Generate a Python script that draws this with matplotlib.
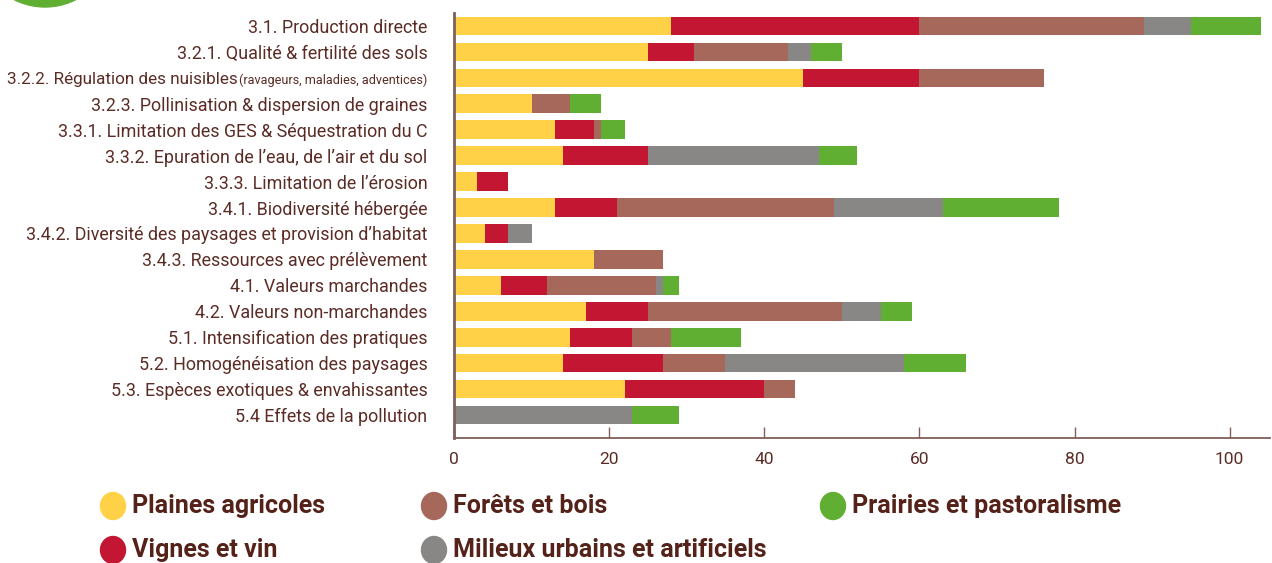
import matplotlib
matplotlib.use("Agg")
import matplotlib.pyplot as plt
from matplotlib.patches import Ellipse
import numpy as np

# categories (top to bottom)
categories = [
    "3.1. Production directe",
    "3.2.1. Qualité & fertilité des sols",
    "3.2.2. Régulation des nuisibles",
    "3.2.3. Pollinisation & dispersion de graines",
    "3.3.1. Limitation des GES & Séquestration du C",
    "3.3.2. Epuration de l\u2019eau, de l\u2019air et du sol",
    "3.3.3. Limitation de l\u2019érosion",
    "3.4.1. Biodiversité hébergée",
    "3.4.2. Diversité des paysages et provision d\u2019habitat",
    "3.4.3. Ressources avec prélèvement",
    "4.1. Valeurs marchandes",
    "4.2. Valeurs non-marchandes",
    "5.1. Intensification des pratiques",
    "5.2. Homogénéisation des paysages",
    "5.3. Espèces exotiques & envahissantes",
    "5.4 Effets de la pollution",
]
note_idx = 2
note = "(ravageurs, maladies, adventices)"

# series values
plaines = [28, 25, 45, 10, 13, 14, 3, 13, 4, 18, 6, 17, 15, 14, 22, 0]
vignes = [32, 6, 15, 0, 5, 11, 4, 8, 3, 0, 6, 8, 8, 13, 18, 0]
forets = [29, 12, 16, 5, 1, 0, 0, 28, 0, 9, 14, 25, 5, 8, 4, 0]
milieux = [6, 3, 0, 0, 0, 22, 0, 14, 3, 0, 1, 5, 0, 23, 0, 23]
prairies = [9, 4, 0, 4, 3, 5, 0, 15, 0, 0, 2, 4, 9, 8, 0, 6]

names = ["Plaines agricoles", "Vignes et vin", "Forêts et bois",
         "Milieux urbains et artificiels", "Prairies et pastoralisme"]
colors = ["#FFD147", "#C31632", "#A6685B", "#888785", "#60AF32"]
series = [plaines, vignes, forets, milieux, prairies]

xticks = [0, 20, 40, 60, 80, 100]

txt = "#5b2c26"
axcol = "#7f5f59"

W, H = 1272, 563
fig = plt.figure(figsize=(W / 100, H / 100), dpi=100)
ax = fig.add_axes([454 / W, 1 - 438 / H, (1270 - 454) / W, (438 - 13) / H])

y = np.arange(len(categories))
left = np.zeros(len(categories))
for vals, col in zip(series, colors):
    ax.barh(y, vals, left=left, color=col, height=0.72)
    left += np.array(vals)

ax.set_xlim(0, 105.2)
ax.set_ylim(len(categories) - 0.113, -0.5)

for s in ["top", "right"]:
    ax.spines[s].set_visible(False)
ax.spines["left"].set_color(axcol)
ax.spines["left"].set_linewidth(2)
ax.spines["bottom"].set_color(axcol)
ax.spines["bottom"].set_linewidth(1.3)

ylabels = list(categories)
ylabels[note_idx] = ""
ax.set_yticks(y)
ax.set_yticklabels(ylabels, fontsize=12.9, color=txt, family="Roboto")
ax.tick_params(axis="y", length=0, pad=19)

ax.set_xticks(xticks)
ax.set_xticklabels([str(t) for t in xticks], fontsize=12.5, color=txt, family="Roboto")
ax.tick_params(axis="x", direction="in", length=8, width=1, color=axcol, pad=10)

# label with the small note
small = ax.annotate(note, xy=(0, note_idx), xycoords=("axes fraction", "data"),
                    xytext=(-19, -4.5), textcoords="offset points",
                    ha="right", va="baseline", fontsize=9.1, color=txt, family="Roboto")
ax.annotate(categories[note_idx], xy=(0, note_idx), xycoords=(small, "data"),
            xytext=(-1, -4.5), textcoords="offset points",
            ha="right", va="baseline", fontsize=12.3, color=txt, family="Roboto")

# green circle at top left
fig.add_artist(Ellipse((45 / W, 1 + 61 / H), 136 / W, 136 / H,
                       transform=fig.transFigure, color="#60AF32", clip_on=False))

# legend
leg_pos = [(113, 506), (113, 550), (434, 506), (434, 550), (833, 506)]
for (lx, ly), name, col in zip(leg_pos, names, colors):
    fig.add_artist(Ellipse((lx / W, 1 - ly / H), 25 / W, 27 / H,
                           transform=fig.transFigure, color=col))
    fig.text((lx + 19) / W, 1 - ly / H, name, ha="left", va="center",
             fontsize=18, fontweight="bold", color="#552219",
             family=["Liberation Sans Narrow", "Roboto"])

fig.savefig("out.png", dpi=100)
